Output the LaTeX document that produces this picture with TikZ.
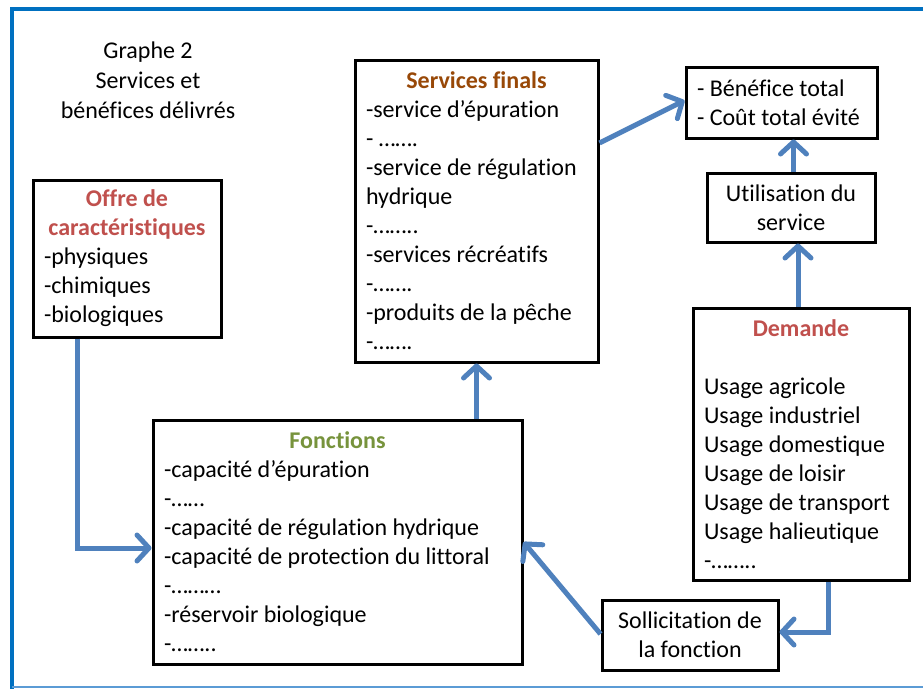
\documentclass[tikz,border=0pt]{standalone}
\usepackage{fontspec}
\setmainfont{Carlito}[Ligatures={NoCommon}]
\usetikzlibrary{arrows.meta}
\definecolor{arrowblue}{HTML}{4F81BD}
\definecolor{framedark}{HTML}{0070C0}
\definecolor{framelight}{HTML}{5B9BD5}
\definecolor{titlered}{HTML}{C0504D}
\definecolor{titlebrown}{HTML}{984807}
\definecolor{titlegreen}{HTML}{77933C}
\tikzset{
  box/.style={draw=black, line width=3pt, fill=white, inner xsep=11pt, inner ysep=2pt,
    align=flush left, font=\fontsize{24}{29}\selectfont},
  cbox/.style={box, align=flush center},
  arr/.style={draw=arrowblue, line width=5pt,
    -{Straight Barb[length=12pt,width=26pt,round]}},
}
\newcommand{\boxtitle}[2]{\makebox[\linewidth][c]{\bfseries\color{#1}#2}}
\begin{document}
\begin{tikzpicture}[x=1pt,y=-1pt]
\useasboundingbox (0,0) rectangle (923,689);
% frame
\draw[framedark, line width=4pt] (10,9) -- (923,9);
\draw[framedark, line width=4pt] (12,7) -- (12,689);
\draw[framelight, line width=2pt] (12,687) -- (923,687);

\node[align=flush center, font=\fontsize{24}{30}\selectfont] (titre) at (148,80)
  {Graphe 2\\Services et\\bénéfices délivrés};

\node[box, minimum width=188pt, minimum height=157pt, text width=166pt] (offre) at (127,258.5)
  {\boxtitle{titlered}{Offre de}\\\boxtitle{titlered}{caractéristiques}\\-physiques\\-chimiques\\-biologiques};

\node[box, minimum width=243pt, minimum height=302pt, text width=221pt] (serv) at (476.5,211)
  {\boxtitle{titlebrown}{Services finals}\\-service d’épuration\\- …….\\-service de régulation\\hydrique\\-……..\\-services récréatifs\\-…….\\-produits de la pêche\\-…….};

\node[box, minimum width=191pt, minimum height=71pt, text width=169pt] (ben) at (781.5,102.5)
  {- Bénéfice total\\- Coût total évité};

\node[cbox, minimum width=168pt, minimum height=69pt, text width=150pt, inner xsep=9pt] (util) at (791,207.5)
  {Utilisation du\\service};

\node[box, minimum width=216pt, minimum height=272pt, text width=194pt] (dem) at (801,444)
  {\boxtitle{titlered}{Demande}\\\mbox{}\\Usage agricole\\Usage industriel\\Usage domestique\\Usage de loisir\\Usage de transport\\Usage halieutique\\-……..};

\node[box, minimum width=369pt, minimum height=244pt, text width=347pt] (fonc) at (337.5,542)
  {\boxtitle{titlegreen}{Fonctions}\\-capacité d’épuration\\-……\\-capacité de régulation hydrique\\-capacité de protection du littoral\\-………\\-réservoir biologique\\-……..};

\node[cbox, minimum width=176pt, minimum height=70pt, text width=164pt, inner xsep=6pt] (soll) at (690,635)
  {Sollicitation de\\la fonction};

% connectors
\draw[arr] ([xshift=46pt]offre.south west) |- ([yshift=-6pt]fonc.west);
\draw[arr] (fonc.north -| serv.south) -- (serv.south);
\draw[arr] ([yshift=68pt]serv.east) -- ([yshift=2pt]ben.west);
\draw[arr] ([xshift=12pt]util.north -| ben.south) -- ([xshift=12pt]ben.south);
\draw[arr] ([xshift=-3pt]dem.north) -- ([xshift=-3pt]dem.north |- util.south);
\draw[arr] ([xshift=27pt]dem.south) |- ([yshift=3pt]soll.east);
\draw[arr] ([yshift=1pt]soll.west) -- (fonc.east);
\end{tikzpicture}
\end{document}
